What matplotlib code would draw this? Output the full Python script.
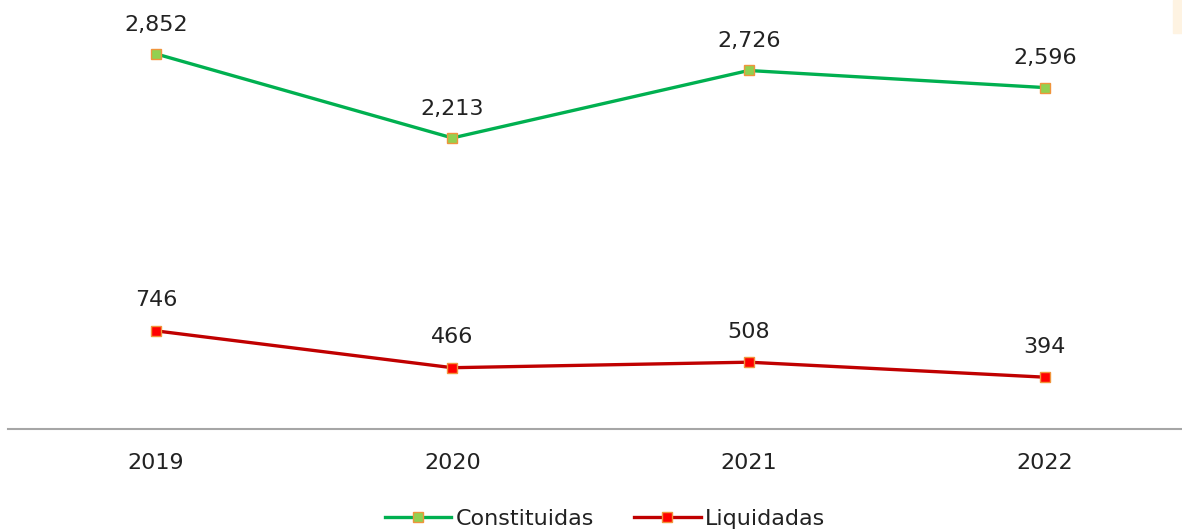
import matplotlib
matplotlib.use('Agg')
import matplotlib.pyplot as plt
from matplotlib.patches import Rectangle

years = ['2019', '2020', '2021', '2022']
constituidas = [2852, 2213, 2726, 2596]
liquidadas = [746, 466, 508, 394]

W, H = 1182, 531
fig = plt.figure(figsize=(W / 100, H / 100), dpi=100)
plt.rcParams['font.family'] = ['DejaVu Sans']

# axes placed in pixel terms; right edge runs past the image like the reference
ax = fig.add_axes([8 / W, (H - 429) / H, 1185 / W, 429 / H])
x = list(range(len(years)))

ax.plot(x, constituidas, color='#00B050', lw=2.4, marker='s', ms=7,
        mfc='#92D050', mec='#F0943C', mew=1.0, label='Constituidas')
ax.plot(x, liquidadas, color='#C00000', lw=2.4, marker='s', ms=7,
        mfc='#FF0000', mec='#F0943C', mew=1.0, label='Liquidadas')

for xi, v in zip(x, constituidas):
    ax.annotate(f'{v:,}', (xi, v), xytext=(0, 21), textcoords='offset points',
                ha='center', va='center', fontsize=16, color='#222222')
for xi, v in zip(x, liquidadas):
    ax.annotate(f'{v:,}', (xi, v), xytext=(0, 22), textcoords='offset points',
                ha='center', va='center', fontsize=16, color='#222222')

ax.set_xlim(-0.5, 3.5)
ax.set_ylim(0, 3262)
ax.set_xticks(x)
ax.set_xticklabels(years, fontsize=16, color='#222222')
ax.tick_params(axis='x', length=0, pad=17)
ax.set_yticks([])
for s in ['top', 'right', 'left']:
    ax.spines[s].set_visible(False)
ax.spines['bottom'].set_color('#A6A6A6')
ax.spines['bottom'].set_linewidth(1.5)

fig.legend(loc='center', bbox_to_anchor=(605 / W, 1 - 519 / H), ncol=2,
           frameon=False, fontsize=16, handlelength=3.0, handletextpad=0.2,
           columnspacing=1.8, labelcolor='#222222')

# light orange strip at top right
fig.patches.append(Rectangle((1173 / W, 1 - 33 / H), 9 / W, 33 / H,
                             transform=fig.transFigure, color='#FEF3E2', zorder=0))

fig.savefig('out.png', dpi=100)
